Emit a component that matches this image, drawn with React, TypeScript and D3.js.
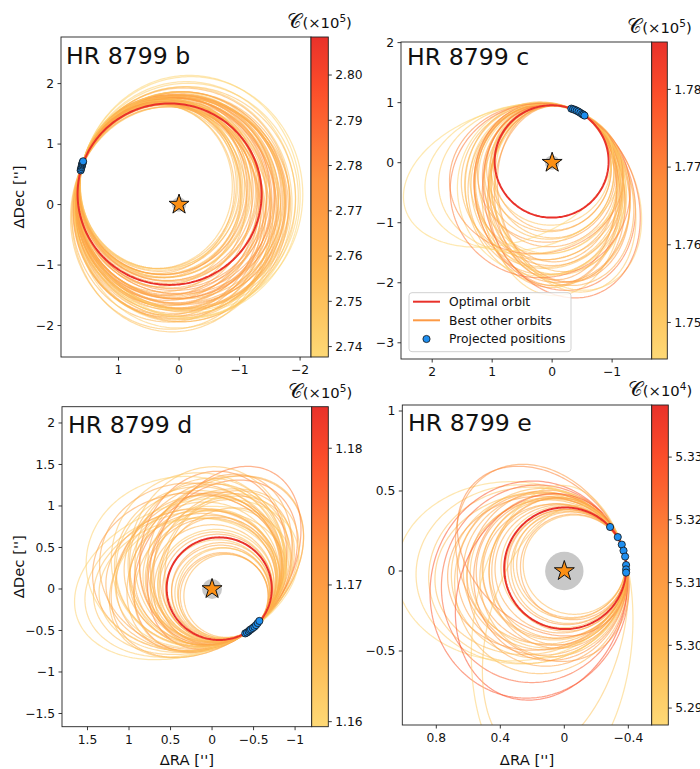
import React from 'react';
import * as d3 from 'd3';

// ---------- DATA ----------
// orbit rows: [rx, ry, rotation(deg), tangent offset at anchor (deg), criterion value]
type Row = [number, number, number, number, number];

const bAnchor: [number, number] = [1.60, 0.64];
const bTangent = 108.4;
const bOptimal = [1.52, 1.50, 0];
const bOrbits: Row[] = [
  [1.26, 1.36, 0, -5, 2.748], [1.29, 1.38, 0, -6, 2.755], [1.32, 1.40, 0, -5, 2.760],
  [1.35, 1.42, 0, -4, 2.752], [1.38, 1.45, 0, -5, 2.764], [1.41, 1.47, 0, -4, 2.758],
  [1.44, 1.49, 0, -3, 2.769], [1.47, 1.51, 0, -4, 2.761], [1.30, 1.42, 0, -7, 2.745],
  [1.36, 1.46, 0, -6, 2.757], [1.42, 1.50, 0, -6, 2.750], [1.48, 1.54, 0, -5, 2.766],
  [1.50, 1.56, 0, -2, 2.762], [1.52, 1.60, 0, 0, 2.770], [1.54, 1.62, 0, 1, 2.756],
  [1.56, 1.64, 0, -1, 2.765], [1.58, 1.68, 0, 2, 2.760], [1.60, 1.70, 0, 0, 2.772],
  [1.62, 1.72, 0, 3, 2.754], [1.64, 1.74, 0, 1, 2.767], [1.66, 1.78, 0, 2, 2.759],
  [1.68, 1.80, 0, 4, 2.763], [1.55, 1.72, 0, 5, 2.768], [1.60, 1.78, 0, 6, 2.757],
  [1.65, 1.84, 0, 7, 2.751], [1.62, 1.64, 0, -2, 2.775], [1.66, 1.68, 0, -1, 2.771],
  [1.70, 1.72, 0, 0, 2.764], [1.58, 1.62, 0, -3, 2.773], [1.52, 1.66, 0, 3, 2.761],
  [1.57, 1.76, 0, 4, 2.766], [1.63, 1.70, 0, -2, 2.769], [1.67, 1.75, 0, 1, 2.758],
  [1.69, 1.83, 0, 3, 2.753], [1.70, 1.82, 0, 2, 2.762], [1.72, 1.85, 0, 0, 2.756],
  [1.74, 1.88, 0, 2, 2.749], [1.76, 1.90, 0, 1, 2.760], [1.78, 1.92, 0, -1, 2.746],
  [1.80, 1.95, 0, -3, 2.742], [1.83, 2.00, 0, -5, 2.739], [1.85, 1.95, 0, -5, 2.740],
  [1.72, 1.76, 0, -1, 2.767], [1.76, 1.80, 0, 0, 2.758], [1.80, 1.84, 0, -2, 2.752],
  [1.74, 1.70, 0, 2, 2.765], [1.78, 1.74, 0, 3, 2.755], [1.70, 1.95, 0, 1, 2.744],
  [1.66, 1.90, 0, 5, 2.750], [1.75, 1.82, 0, -2, 2.761], [1.82, 1.88, 0, -3, 2.743],
  [1.45, 1.58, 0, 1, 2.763], [1.40, 1.55, 0, 0, 2.757], [1.35, 1.50, 0, -1, 2.751],
  [1.50, 1.62, 0, 2, 2.768], [1.73, 1.79, 0, 1, 2.762], [1.61, 1.66, 0, 0, 2.776],
  [1.56, 1.58, 0, -2, 2.770], [1.68, 1.64, 0, -1, 2.766], [1.71, 1.68, 0, 0, 2.759],
  [1.28, 1.40, 0, -4, 2.756], [1.34, 1.44, 0, -3, 2.762], [1.40, 1.48, 0, -5, 2.753],
  [1.46, 1.52, 0, -3, 2.759], [1.33, 1.39, 0, -6, 2.749], [1.39, 1.43, 0, -4, 2.767],
];
const bPositions = [[1.625, 0.565], [1.62, 0.59], [1.61, 0.62], [1.605, 0.645], [1.60, 0.665], [1.595, 0.685], [1.59, 0.70], [1.585, 0.715]];

const cAnchor: [number, number] = [-0.43, 0.85];
const cTangent = -152.9;
const cOptimal = [0.95, 0.935, 0];
const cOrbits: Row[] = [
  [1.00, 1.00, 0, 0, 1.752], [1.04, 1.06, 0, 1, 1.758], [1.08, 1.12, 0, 0, 1.755],
  [1.12, 1.18, 0, -1, 1.762], [1.16, 1.24, 0, 0, 1.749], [1.20, 1.30, 0, 1, 1.760],
  [1.25, 1.36, 0, 0, 1.754], [1.30, 1.42, 0, -1, 1.757], [1.15, 1.15, 0, 0, 1.763],
  [1.25, 1.25, 0, -1, 1.751], [0.98, 1.04, 0, 0, 1.759], [1.02, 1.10, 0, -1, 1.756],
  [1.05, 1.30, 0, 0, 1.761], [1.08, 1.40, 0, 0, 1.753], [1.10, 1.50, 0, 1, 1.766],
  [1.12, 1.58, 0, 0, 1.750], [1.02, 1.45, 0, 2, 1.764], [1.16, 1.52, 0, 1, 1.756],
  [1.20, 1.55, -20, 0, 1.759], [1.15, 1.50, -15, 0, 1.765], [1.25, 1.45, -18, 1, 1.752],
  [1.30, 1.60, -22, 0, 1.773], [1.10, 1.40, -12, 0, 1.757], [1.18, 1.62, -25, -1, 1.748],
  [1.28, 1.50, -15, -1, 1.762], [1.35, 1.55, -20, 1, 1.755], [1.22, 1.35, -10, 0, 1.760],
  [1.12, 1.60, -18, 0, 1.751], [1.40, 1.45, -15, 0, 1.747], [1.26, 1.65, -20, -2, 1.774],
  [1.05, 1.48, -10, 1, 1.763], [1.32, 1.38, -12, 0, 1.754],
  [1.35, 1.30, -3, -2, 1.756], [1.45, 1.25, -5, -3, 1.769], [1.55, 1.25, -8, -4, 1.749],
  [1.65, 1.20, -12, -5, 1.747], [1.80, 1.10, -18, -6, 1.746], [1.50, 1.45, 0, -3, 1.772],
];
const cPositions = [[-0.32, 0.90], [-0.35, 0.89], [-0.38, 0.88], [-0.41, 0.865], [-0.44, 0.85], [-0.47, 0.83], [-0.50, 0.81], [-0.52, 0.80], [-0.54, 0.785]];

const dAnchor: [number, number] = [-0.48, -0.48];
const dTangent = -37.8;
const dOptimal = [0.633, 0.618, 0];
const dOrbits: Row[] = [
  [0.51, 0.50, 0, 1, 1.166], [0.54, 0.52, 0, -1, 1.168], [0.57, 0.55, 0, 0, 1.165],
  [0.60, 0.58, 0, 1, 1.167], [0.63, 0.61, 0, -2, 1.164], [0.66, 0.64, 0, 0, 1.169],
  [0.70, 0.67, 0, 1, 1.163], [0.74, 0.71, 0, -1, 1.166], [0.78, 0.75, 0, 0, 1.168],
  [0.82, 0.79, 0, 2, 1.165], [0.86, 0.82, 0, -1, 1.167], [0.90, 0.86, 0, 0, 1.164],
  [0.95, 0.90, 0, 1, 1.166], [1.00, 0.94, 0, 0, 1.163],
  [1.30, 0.92, 140, 0, 1.168], [1.22, 0.88, 135, 1, 1.166], [1.15, 0.85, 130, -1, 1.174],
  [1.08, 0.80, 138, 0, 1.165], [1.00, 0.78, 125, 1, 1.167], [0.95, 0.74, 118, 0, 1.164],
  [1.18, 0.82, 120, -1, 1.175], [1.25, 0.88, 145, 0, 1.165], [1.10, 0.90, 150, 1, 1.169],
  [0.90, 0.72, 130, 0, 1.166],
  [1.10, 0.80, -10, 0, 1.163], [1.18, 0.84, -15, 1, 1.164], [1.28, 0.86, -18, 2, 1.162],
  [1.40, 0.90, -20, 3, 1.161], [1.05, 0.85, -8, -1, 1.168], [0.98, 0.78, -5, 0, 1.162],
  [1.15, 0.95, -5, 0, 1.170],
  [0.90, 1.00, 5, 0, 1.165], [0.88, 1.05, 10, -1, 1.173], [0.95, 1.10, 15, -2, 1.164],
  [0.82, 0.95, 5, 1, 1.166], [0.78, 0.88, 0, 0, 1.167], [1.05, 1.05, 10, 0, 1.163],
  [1.10, 1.00, 5, -1, 1.168], [1.20, 1.05, 0, 0, 1.161], [0.92, 0.98, 0, -1, 1.166],
  [1.02, 0.96, 0, 1, 1.165], [0.70, 0.74, 0, 1, 1.167], [0.75, 0.80, 0, -1, 1.164],
  [0.85, 0.90, 0, 0, 1.168], [0.80, 0.76, 0, 2, 1.166], [0.68, 0.66, 0, -1, 1.165],
  [0.88, 0.80, 0, -2, 1.167], [1.05, 0.80, 110, 0, 1.169], [0.85, 0.70, 100, 1, 1.166],
  [0.53, 0.51, 0, 0, 1.167], [0.56, 0.54, 0, 2, 1.164], [0.59, 0.57, 0, -1, 1.168],
];
const dPositions = [[-0.40, -0.535], [-0.42, -0.525], [-0.44, -0.51], [-0.455, -0.495], [-0.47, -0.485], [-0.49, -0.47], [-0.51, -0.455], [-0.53, -0.435], [-0.55, -0.41], [-0.57, -0.385]];

const eAnchor: [number, number] = [-0.37, 0.127];
const eTangent = -106.9;
const eOptimal = [0.381, 0.38, 0];
const eOrbits: Row[] = [
  [0.32, 0.31, 0, 0, 5.300], [0.34, 0.33, 0, 1, 5.305], [0.36, 0.35, 0, -1, 5.302],
  [0.39, 0.38, 0, 1, 5.298], [0.41, 0.40, 0, 0, 5.306], [0.43, 0.42, 0, -1, 5.303],
  [0.45, 0.44, 0, 1, 5.300], [0.47, 0.46, 0, 0, 5.310], [0.49, 0.47, 0, -1, 5.297],
  [0.51, 0.49, 0, 1, 5.304], [0.53, 0.51, 0, 0, 5.308], [0.55, 0.52, 0, -1, 5.299],
  [0.42, 0.46, 0, 2, 5.306], [0.46, 0.50, 5, 0, 5.302], [0.50, 0.55, 5, 1, 5.309],
  [0.54, 0.58, 8, 0, 5.301], [0.45, 0.42, 0, -2, 5.307], [0.50, 0.45, -5, -1, 5.303],
  [0.56, 0.48, -8, 0, 5.311], [0.60, 0.50, -10, 1, 5.298], [0.62, 0.55, -5, 0, 5.296],
  [0.66, 0.56, 0, -1, 5.292], [0.72, 0.56, 0, 0, 5.289], [0.58, 0.62, 15, 0, 5.326],
  [0.52, 0.66, 20, 1, 5.330], [0.62, 0.68, 10, -1, 5.328], [0.65, 0.50, 60, 0, 5.312],
  [0.60, 0.45, 45, 1, 5.318], [0.95, 0.50, 95, 0, 5.291], [0.80, 0.42, 105, 2, 5.294],
  [0.38, 0.38, 0, -2, 5.304], [0.43, 0.47, 0, 1, 5.307], [0.48, 0.52, 3, 0, 5.315],
  [0.33, 0.33, 0, -1, 5.308], [0.35, 0.34, 0, 2, 5.301], [0.37, 0.36, 0, 0, 5.311],
];
const ePositions = [[-0.286, 0.275], [-0.334, 0.212], [-0.359, 0.165], [-0.37, 0.127], [-0.38, 0.09], [-0.386, 0.037], [-0.386, 0.01], [-0.386, -0.01]];

// axis ticks
const bXTicks = [1, 0, -1, -2];
const bYTicks = [-2, -1, 0, 1, 2];
const cXTicks = [2, 1, 0, -1];
const cYTicks = [-3, -2, -1, 0, 1, 2];
const dXTicks = [1.5, 1, 0.5, 0, -0.5, -1];
const dYTicks = [-1.5, -1, -0.5, 0, 0.5, 1, 1.5, 2];
const eXTicks = [0.8, 0.4, 0, -0.4];
const eYTicks = [-0.5, 0, 0.5, 1];
// colorbar ticks
const bCTicks = [2.74, 2.75, 2.76, 2.77, 2.78, 2.79, 2.80];
const cCTicks = [1.75, 1.76, 1.77, 1.78];
const dCTicks = [1.16, 1.17, 1.18];
const eCTicks = [5.29, 5.30, 5.31, 5.32, 5.33];

const legendLabels = ['Optimal orbit', 'Best other orbits', 'Projected positions'];

// ---------- STYLE / LAYOUT ----------
const FONT = 'DejaVu Sans, sans-serif';
const ORBIT_OPACITY = 0.55;
const ORBIT_WIDTH = 1.25;
const cmap = d3.scaleLinear<string>()
  .domain([0, 0.278, 0.556, 0.833, 1])
  .range(['#fed976', '#feb24c', '#fd8d3c', '#fc4e2a', '#e9312a'])
  .clamp(true);
const OPT_COLOR = '#e9312a';
const LEG_ORANGE = '#fd9a45';
const DOT_COLOR = '#1f8ff0';

const panels = [
  { id: 'b', name: 'HR 8799 b', x0: 61, y0: 37, x1: 311, y1: 357, cbR: 328.3, titleX: 66, titleY: 64,
    xDom: [1.95, -2.18], yDom: [-2.52, 2.77], cDom: [2.7377, 2.8084], exp: '5',
    xTicks: bXTicks, yTicks: bYTicks, cTicks: bCTicks, orbits: bOrbits, opt: bOptimal, anchor: bAnchor, tangent: bTangent, pos: bPositions,
    yLabel: true, xLabel: false, legend: false },
  { id: 'c', name: 'HR 8799 c', x0: 401, y0: 42, x1: 651.7, y1: 359, cbR: 667.3, titleX: 407, titleY: 65,
    xDom: [2.52, -1.66], yDom: [-3.27, 2.01], cDom: [1.7453, 1.7861], exp: '5',
    xTicks: cXTicks, yTicks: cYTicks, cTicks: cCTicks, orbits: cOrbits, opt: cOptimal, anchor: cAnchor, tangent: cTangent, pos: cPositions,
    yLabel: false, xLabel: false, legend: true },
  { id: 'd', name: 'HR 8799 d', x0: 62, y0: 406.7, x1: 311.7, y1: 726.7, cbR: 328.3, titleX: 68, titleY: 433,
    xDom: [1.807, -1.2], yDom: [-1.659, 2.196], cDom: [1.15963, 1.18304], exp: '5',
    xTicks: dXTicks, yTicks: dYTicks, cTicks: dCTicks, orbits: dOrbits, opt: dOptimal, anchor: dAnchor, tangent: dTangent, pos: dPositions,
    yLabel: true, xLabel: true, legend: false },
  { id: 'e', name: 'HR 8799 e', x0: 402.3, y0: 405, x1: 651.7, y1: 725, cbR: 668.3, titleX: 408, titleY: 431,
    xDom: [1.0125, -0.546], yDom: [-0.9625, 1.0375], cDom: [5.2873, 5.3383], exp: '4',
    xTicks: eXTicks, yTicks: eYTicks, cTicks: eCTicks, orbits: eOrbits, opt: eOptimal, anchor: eAnchor, tangent: eTangent, pos: ePositions,
    yLabel: false, xLabel: true, legend: false },
];

const fmt = (v: number) => (v < 0 ? '\u2212' : '') + String(Math.abs(v));

// ellipse through the anchor position, with the given tangent direction there
function orbitPoints(P: [number, number], phiDeg: number, rx: number, ry: number, rotDeg: number) {
  const rot = (rotDeg * Math.PI) / 180;
  const phiL = ((phiDeg - rotDeg) * Math.PI) / 180;
  const dx = Math.cos(phiL), dy = Math.sin(phiL);
  const t0 = Math.atan2(-dx / rx, dy / ry);
  const lx = rx * Math.cos(t0), ly = ry * Math.sin(t0);
  const cx = P[0] - (lx * Math.cos(rot) - ly * Math.sin(rot));
  const cy = P[1] - (lx * Math.sin(rot) + ly * Math.cos(rot));
  const pts: [number, number][] = [];
  for (let k = 0; k < 240; k++) {
    const t = (k / 240) * 2 * Math.PI;
    const ex = rx * Math.cos(t), ey = ry * Math.sin(t);
    pts.push([cx + ex * Math.cos(rot) - ey * Math.sin(rot), cy + ex * Math.sin(rot) + ey * Math.cos(rot)]);
  }
  return pts;
}

function Panel({ p }: { p: any }) {
  const x = d3.scaleLinear().domain(p.xDom).range([p.x0, p.x1]);
  const y = d3.scaleLinear().domain(p.yDom).range([p.y1, p.y0]);
  const cs = d3.scaleLinear().domain(p.cDom).range([p.y1, p.y0]);
  const norm = (v: number) => (v - p.cDom[0]) / (p.cDom[1] - p.cDom[0]);
  const line = d3.line<[number, number]>().x((d) => x(d[0])).y((d) => y(d[1])).curve(d3.curveLinearClosed);
  const star = d3.symbol().type(d3.symbolStar).size(124)();
  const grayR = Math.abs(x(0.12) - x(0));
  const stops = d3.range(0, 1.0001, 0.05);
  const cbW = p.cbR - p.x1;
  const cbCx = (p.x1 + p.cbR) / 2;
  const tick = 3.5;
  return (
    <g>
      <defs>
        <clipPath id={`clip-${p.id}`}>
          <rect x={p.x0} y={p.y0} width={p.x1 - p.x0} height={p.y1 - p.y0} />
        </clipPath>
        <linearGradient id={`grad-${p.id}`} x1="0" y1="1" x2="0" y2="0">
          {stops.map((s) => (
            <stop key={s} offset={s} stopColor={cmap(s)} />
          ))}
        </linearGradient>
      </defs>
      <rect x={p.x0} y={p.y0} width={p.x1 - p.x0} height={p.y1 - p.y0} fill="#fff" />
      <g clipPath={`url(#clip-${p.id})`}>
        <circle cx={x(0)} cy={y(0)} r={grayR} fill="#c8c8c8" />
        {p.orbits.map((o: Row, i: number) => (
          <path key={i} d={line(orbitPoints(p.anchor, p.tangent + o[3], o[0], o[1], o[2])) || ''}
            fill="none" stroke={cmap(norm(o[4]))} strokeOpacity={ORBIT_OPACITY} strokeWidth={ORBIT_WIDTH} />
        ))}
        <path d={line(orbitPoints(p.anchor, p.tangent, p.opt[0], p.opt[1], p.opt[2])) || ''}
          fill="none" stroke={OPT_COLOR} strokeWidth={2} />
        {p.pos.map((d: number[], i: number) => (
          <circle key={i} cx={x(d[0])} cy={y(d[1])} r={3.6} fill={DOT_COLOR} stroke="#111" strokeWidth={0.8} />
        ))}
        <path d={star || ''} transform={`translate(${x(0)},${y(0)})`} fill="#fb8f14" stroke="#111" strokeWidth={1} />
      </g>
      <rect x={p.x0} y={p.y0} width={p.x1 - p.x0} height={p.y1 - p.y0} fill="none" stroke="#222" strokeWidth={0.9} />
      {p.xTicks.map((t: number) => (
        <g key={'x' + t}>
          <line x1={x(t)} x2={x(t)} y1={p.y1} y2={p.y1 + tick} stroke="#222" strokeWidth={0.9} />
          <text x={x(t)} y={p.y1 + 17} textAnchor="middle" fontSize={12.3} fontFamily={FONT} fill="#111">{fmt(t)}</text>
        </g>
      ))}
      {p.yTicks.map((t: number) => (
        <g key={'y' + t}>
          <line x1={p.x0 - tick} x2={p.x0} y1={y(t)} y2={y(t)} stroke="#222" strokeWidth={0.9} />
          <text x={p.x0 - 7} y={y(t) + 4.4} textAnchor="end" fontSize={12.3} fontFamily={FONT} fill="#111">{fmt(t)}</text>
        </g>
      ))}
      <text x={p.titleX} y={p.titleY} fontSize={23.6} fontFamily={FONT} fill="#111">{p.name}</text>
      {p.yLabel && (
        <text transform={`translate(24,${(p.y0 + p.y1) / 2}) rotate(-90)`} textAnchor="middle" fontSize={14.8} fontFamily={FONT} fill="#111">
          ΔDec ['']
        </text>
      )}
      {p.xLabel && (
        <text x={(p.x0 + p.x1) / 2} y={765} textAnchor="middle" fontSize={14.8} fontFamily={FONT} fill="#111">
          ΔRA ['']
        </text>
      )}
      <rect x={p.x1} y={p.y0} width={cbW} height={p.y1 - p.y0} fill={`url(#grad-${p.id})`} stroke="#222" strokeWidth={0.9} />
      {p.cTicks.map((t: number) => (
        <g key={'c' + t}>
          <line x1={p.cbR} x2={p.cbR + tick} y1={cs(t)} y2={cs(t)} stroke="#222" strokeWidth={0.9} />
          <text x={p.cbR + 7} y={cs(t) + 4.4} fontSize={12.3} fontFamily={FONT} fill="#111">{t.toFixed(2)}</text>
        </g>
      ))}
      <text x={cbCx} y={p.y0 - 9} textAnchor="middle" fontFamily={FONT} fill="#111" fontSize={14.8}>
        <tspan fontSize={20} fontFamily="DejaVu Serif, DejaVu Sans, serif">𝒞</tspan>
        <tspan>(×10</tspan>
        <tspan fontSize={10.5} dy={-6}>{p.exp}</tspan>
        <tspan dy={6}>)</tspan>
      </text>
      {p.legend && (
        <g>
          <rect x={409} y={292.7} width={162} height={59} rx={3} fill="#fff" fillOpacity={0.8} stroke="#cccccc" strokeWidth={0.9} />
          <line x1={413} x2={440} y1={301.7} y2={301.7} stroke={OPT_COLOR} strokeWidth={2} />
          <line x1={413} x2={440} y1={320.3} y2={320.3} stroke={LEG_ORANGE} strokeWidth={2} />
          <circle cx={426.5} cy={339} r={3.6} fill={DOT_COLOR} stroke="#111" strokeWidth={0.8} />
          {legendLabels.map((l, i) => (
            <text key={l} x={449} y={[301.7, 320.3, 339][i] + 4.4} fontSize={12.3} fontFamily={FONT} fill="#111">{l}</text>
          ))}
        </g>
      )}
    </g>
  );
}

export default function App() {
  return (
    <svg width={700} height={769} viewBox="0 0 700 769"
      style={{ position: 'absolute', left: 0, top: 0, background: '#fff', overflow: 'hidden' }}>
      <rect width={700} height={769} fill="#fff" />
      {panels.map((p) => (
        <Panel key={p.id} p={p} />
      ))}
    </svg>
  );
}
